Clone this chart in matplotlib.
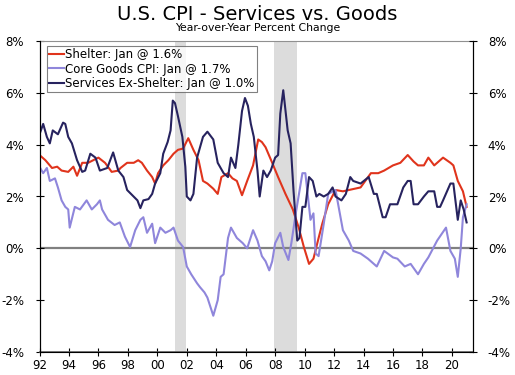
import numpy as np
import matplotlib
matplotlib.use("Agg")
import matplotlib.pyplot as plt

# Year-over-year % change (decimal years)
shelter_t = [1992.0, 1992.4, 1992.85, 1993.2, 1993.5, 1993.95, 1994.3, 1994.55, 1994.9, 1995.3,
             1995.65, 1996.0, 1996.45, 1996.9, 1997.35, 1997.5, 1997.95, 1998.4, 1998.7, 1998.95,
             1999.3, 1999.65, 1999.85, 2000.05, 2000.4, 2000.75, 2001.1, 2001.4, 2001.75, 2002.1,
             2002.45, 2002.8, 2003.1, 2003.4, 2003.8, 2004.1, 2004.35, 2004.8, 2005.1, 2005.4,
             2005.75, 2006.1, 2006.5, 2006.85, 2007.1, 2007.35, 2007.8, 2008.2, 2008.7, 2009.2,
             2009.6, 2009.95, 2010.3, 2010.6, 2010.95, 2011.2, 2011.6, 2012.1, 2012.6, 2013.0,
             2013.8, 2014.5, 2015.0, 2015.4, 2016.0, 2016.5, 2017.0, 2017.4, 2017.7, 2018.1,
             2018.4, 2018.8, 2019.1, 2019.4, 2019.9, 2020.1, 2020.4, 2020.75, 2021.0]
shelter = [3.6, 3.4, 3.1, 3.15, 3.0, 2.95, 3.15, 2.8, 3.3, 3.3,
           3.4, 3.5, 3.3, 2.95, 3.0, 3.1, 3.3, 3.3, 3.4, 3.3,
           3.0, 2.75, 2.5, 2.9, 3.2, 3.4, 3.65, 3.8, 3.85, 4.25,
           3.8, 3.4, 2.6, 2.5, 2.3, 2.1, 2.75, 2.9, 2.7, 2.6,
           2.05, 2.6, 3.2, 4.2, 4.1, 3.9, 3.3, 2.75, 2.1, 1.5,
           0.8, 0.05, -0.6, -0.4, 0.4, 0.95, 1.7, 2.25, 2.2, 2.25,
           2.35, 2.9, 2.9, 3.0, 3.2, 3.3, 3.6, 3.35, 3.2, 3.2,
           3.5, 3.2, 3.35, 3.5, 3.3, 3.2, 2.6, 2.2, 1.6]

goods_t = [1992.0, 1992.25, 1992.5, 1992.7, 1993.05, 1993.25, 1993.5, 1993.75, 1993.95, 1994.05,
           1994.4, 1994.75, 1995.2, 1995.55, 1995.9, 1996.1, 1996.25, 1996.65, 1997.1, 1997.45,
           1997.8, 1998.15, 1998.5, 1998.85, 1999.05, 1999.3, 1999.65, 1999.85, 2000.2, 2000.55,
           2000.9, 2001.1, 2001.4, 2001.75, 2002.0, 2002.3, 2002.7, 2002.9, 2003.2, 2003.4,
           2003.8, 2004.1, 2004.3, 2004.5, 2004.8, 2005.0, 2005.4, 2005.8, 2006.1, 2006.5,
           2006.8, 2007.1, 2007.35, 2007.6, 2007.8, 2008.0, 2008.35, 2008.55, 2008.9, 2009.1,
           2009.4, 2009.85, 2010.05, 2010.4, 2010.6, 2010.75, 2010.95, 2011.3, 2011.6, 2012.1,
           2012.6, 2013.0, 2013.3, 2013.8, 2014.3, 2014.9, 2015.4, 2016.0, 2016.3, 2016.8,
           2017.2, 2017.7, 2018.1, 2018.4, 2019.0, 2019.6, 2019.9, 2020.2, 2020.4, 2020.6,
           2020.75, 2021.0]
core_goods = [3.15, 2.9, 3.1, 2.6, 2.7, 2.35, 1.85, 1.6, 1.5, 0.8,
              1.6, 1.5, 1.85, 1.5, 1.7, 1.85, 1.5, 1.1, 0.9, 1.0,
              0.45, 0.05, 0.7, 1.1, 1.2, 0.6, 0.95, 0.2, 0.8, 0.6,
              0.7, 0.8, 0.3, 0.05, -0.7, -1.0, -1.35, -1.5, -1.7, -1.9,
              -2.6, -2.0, -1.1, -1.0, 0.4, 0.8, 0.4, 0.2, 0.0, 0.7,
              0.3, -0.3, -0.5, -0.85, -0.5, 0.2, 0.6, 0.05, -0.45, 0.2,
              1.35, 2.9, 2.9, 1.1, 1.35, -0.2, -0.3, 0.95, 2.1, 2.25,
              0.7, 0.3, -0.1, -0.2, -0.4, -0.7, -0.1, -0.35, -0.4, -0.7,
              -0.6, -1.0, -0.6, -0.35, 0.3, 0.8, -0.1, -0.4, -1.1, 0.0,
              1.2, 1.7]

services_t = [1992.0, 1992.25, 1992.5, 1992.7, 1992.9, 1993.25, 1993.6, 1993.75, 1993.95, 1994.2,
              1994.55, 1994.9, 1995.1, 1995.45, 1995.8, 1996.1, 1996.6, 1997.0, 1997.35, 1997.7,
              1997.95, 1998.3, 1998.65, 1998.85, 1999.05, 1999.4, 1999.65, 1999.85, 2000.2, 2000.4,
              2000.7, 2000.9, 2001.05, 2001.2, 2001.4, 2001.7, 2001.9, 2002.0, 2002.25, 2002.45,
              2002.7, 2003.1, 2003.4, 2003.8, 2004.1, 2004.5, 2004.8, 2005.0, 2005.3, 2005.5,
              2005.75, 2005.95, 2006.15, 2006.35, 2006.55, 2006.8, 2006.95, 2007.2, 2007.45, 2007.7,
              2008.0, 2008.2, 2008.35, 2008.55, 2008.85, 2009.05, 2009.25, 2009.5, 2009.65, 2009.85,
              2010.05, 2010.3, 2010.55, 2010.8, 2011.0, 2011.3, 2011.6, 2011.9, 2012.1, 2012.5,
              2012.8, 2013.1, 2013.3, 2013.8, 2014.35, 2014.7, 2014.9, 2015.3, 2015.5, 2015.8,
              2016.3, 2016.7, 2017.0, 2017.2, 2017.4, 2017.7, 2018.1, 2018.4, 2018.8, 2019.0,
              2019.2, 2019.4, 2019.9, 2020.1, 2020.4, 2020.6, 2020.8, 2021.0]
services_ex_shelter = [4.4, 4.8, 4.3, 4.05, 4.55, 4.4, 4.85, 4.8, 4.3, 4.05,
                       3.4, 2.95, 3.0, 3.65, 3.5, 3.0, 3.1, 3.7, 3.0, 2.75,
                       2.25, 2.05, 1.85, 1.55, 1.85, 1.9, 2.1, 2.5, 2.9, 3.65,
                       4.1, 4.55, 5.7, 5.6, 5.1, 4.3, 3.15, 2.0, 1.85, 2.1,
                       3.5, 4.3, 4.5, 4.2, 3.3, 2.9, 2.75, 3.5, 3.1, 4.0,
                       5.3, 5.8, 5.5, 4.8, 4.3, 3.0, 2.0, 3.0, 2.75, 3.0,
                       3.5, 3.6, 5.2, 6.1, 4.55, 4.05, 2.2, 0.3, 0.4, 1.6,
                       1.6, 2.75, 2.6, 2.0, 2.1, 2.0, 2.1, 2.35, 2.0, 1.85,
                       2.1, 2.75, 2.6, 2.5, 2.75, 2.1, 2.1, 1.2, 1.2, 1.7,
                       1.7, 2.35, 2.6, 2.6, 1.7, 1.7, 2.0, 2.2, 2.2, 1.6,
                       1.6, 1.85, 2.5, 2.5, 1.1, 1.85, 1.5, 1.0]

recessions = [(2001.17, 2001.92), (2007.92, 2009.47)]
yticks = [-4, -2, 0, 2, 4, 6, 8]
xticks = list(range(1992, 2021, 2))

fig = plt.figure(figsize=(5.15, 3.75), dpi=100)
ax = fig.add_axes([0.0767, 0.0613, 0.8408, 0.8294])

for start, end in recessions:
    ax.axvspan(start, end, color="#dcdcdc", lw=0, zorder=0)
ax.axhline(0, color="#808080", lw=1.6, zorder=1)

ax.plot(shelter_t, shelter, color="#e0341c", lw=1.5, label="Shelter: Jan @ 1.6%", zorder=3)
ax.plot(goods_t, core_goods, color="#8f86db", lw=1.5, label="Core Goods CPI: Jan @ 1.7%", zorder=4)
ax.plot(services_t, services_ex_shelter, color="#27235f", lw=1.5,
        label="Services Ex-Shelter: Jan @ 1.0%", zorder=5)

ax.set_xlim(1992, 2021.4)
ax.set_ylim(-4, 8)
ax.set_yticks(yticks)
ax.set_yticklabels([f"{v}%" for v in yticks])
ax.set_xticks(xticks)
ax.set_xticklabels([str(y)[2:] for y in xticks])
ax.tick_params(axis="both", direction="inout", length=6, width=0.8, labelsize=8.5, colors="black")
ax.tick_params(axis="y", pad=8)
ax.tick_params(axis="x", pad=2)
ax.spines["top"].set_color("#909090")
ax.spines["bottom"].set_color("#606060")
ax.spines["bottom"].set_linewidth(1.2)

ax2 = ax.twinx()
ax2.set_ylim(-4, 8)
ax2.set_yticks(yticks)
ax2.set_yticklabels([f"{v}%" for v in yticks])
ax2.tick_params(axis="y", direction="inout", length=6, width=0.8, labelsize=8.5, pad=8)
ax2.spines["top"].set_visible(False)

leg = ax.legend(loc="upper left", bbox_to_anchor=(0.008, 0.995), fontsize=8.5, frameon=True,
                fancybox=False, edgecolor="#606060", handlelength=1.3, handletextpad=0.1,
                borderpad=0.2, labelspacing=0.1, borderaxespad=0.3)
leg.get_frame().set_linewidth(0.8)

fig.text(0.5, 0.962, "U.S. CPI - Services vs. Goods", ha="center", va="center", fontsize=14)
fig.text(0.5, 0.925, "Year-over-Year Percent Change", ha="center", va="center", fontsize=7.8)

fig.savefig("out.png", dpi=100)
